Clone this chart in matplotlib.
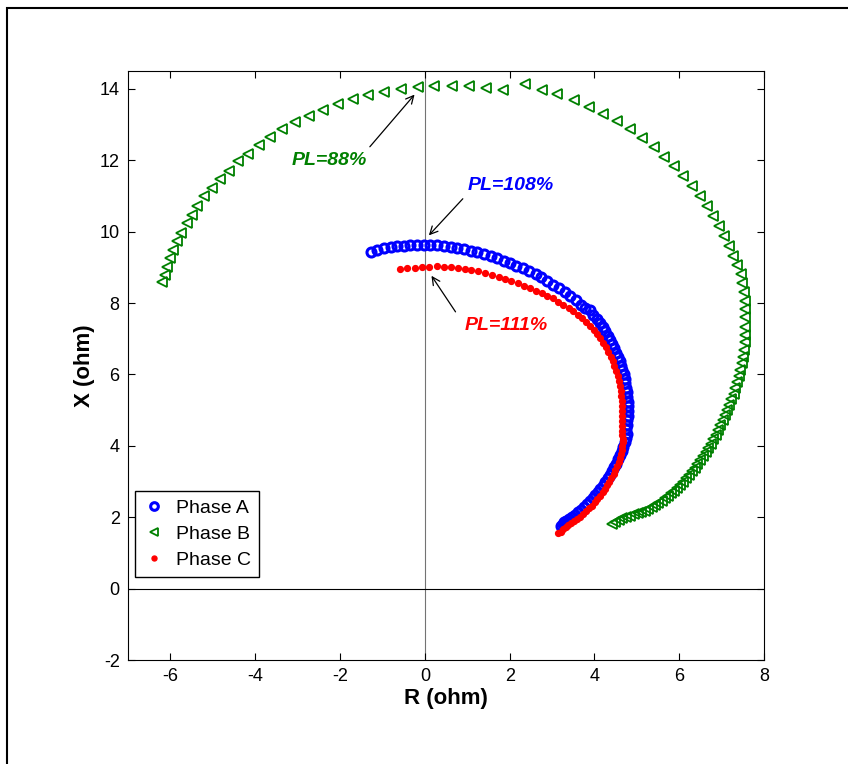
import matplotlib.pyplot as plt
from matplotlib.patches import Rectangle

plt.rcParams['axes.unicode_minus'] = False

# Phase A (blue circles)
ra = [-1.27, -1.12, -0.97, -0.81, -0.65, -0.50, -0.34, -0.18, -0.02, 0.13, 0.29, 0.45, 0.61, 0.76,
      0.92, 1.08, 1.23, 1.39, 1.55, 1.70, 1.86, 2.01, 2.16, 2.31, 2.46, 2.61, 2.75, 2.89, 3.03, 3.17,
      3.30, 3.43, 3.56, 3.68, 3.78, 3.90, 3.96, 4.05, 4.12, 4.19, 4.25, 4.31, 4.37, 4.42, 4.47, 4.52,
      4.56, 4.60, 4.63, 4.66, 4.69, 4.71, 4.73, 4.75, 4.76, 4.77, 4.78, 4.78, 4.78, 4.78, 4.77, 4.76,
      4.75, 4.77, 4.74, 4.71, 4.68, 4.64, 4.60, 4.56, 4.52, 4.47, 4.42, 4.37, 4.32, 4.26, 4.20, 4.14,
      4.08, 4.02, 3.96, 3.89, 3.82, 3.75, 3.68, 3.61, 3.54, 3.47, 3.40, 3.34, 3.29, 3.25, 3.22]
xa = [9.44, 9.50, 9.54, 9.57, 9.59, 9.61, 9.62, 9.63, 9.63, 9.63, 9.62, 9.60, 9.58, 9.55,
      9.51, 9.47, 9.42, 9.37, 9.32, 9.26, 9.19, 9.12, 9.05, 8.98, 8.90, 8.81, 8.72, 8.62, 8.52, 8.42,
      8.31, 8.20, 8.08, 7.96, 7.86, 7.80, 7.68, 7.56, 7.45, 7.33, 7.21, 7.09, 6.97, 6.85, 6.73, 6.61,
      6.49, 6.37, 6.25, 6.12, 6.00, 5.88, 5.75, 5.62, 5.50, 5.37, 5.24, 5.11, 4.98, 4.85, 4.72, 4.59,
      4.46, 4.32, 4.22, 4.10, 3.98, 3.86, 3.74, 3.62, 3.50, 3.40, 3.30, 3.19, 3.09, 2.99, 2.89, 2.80,
      2.71, 2.62, 2.53, 2.45, 2.37, 2.29, 2.21, 2.14, 2.07, 2.01, 1.96, 1.91, 1.86, 1.81, 1.76]

# Phase B (green triangles)
rb = [-6.19, -6.12, -6.07, -6.01, -5.94, -5.84, -5.75, -5.61, -5.49, -5.37, -5.20, -5.02, -4.83,
      -4.62, -4.41, -4.17, -3.92, -3.66, -3.37, -3.06, -2.74, -2.40, -2.05, -1.69, -1.34, -0.97,
      -0.57, -0.17, 0.21, 0.63, 1.05, 1.45, 1.85, 2.37, 2.77, 3.12, 3.51, 3.88, 4.21, 4.54, 4.85,
      5.13, 5.40, 5.64, 5.88, 6.09, 6.31, 6.50, 6.66, 6.80, 6.93, 7.05, 7.17, 7.27, 7.37, 7.45,
      7.48, 7.52, 7.55, 7.56, 7.56, 7.56, 7.55, 7.54, 7.52, 7.50, 7.47, 7.44, 7.40, 7.36, 7.32,
      7.28, 7.23, 7.18, 7.13, 7.08, 7.03, 6.97, 6.91, 6.86, 6.80, 6.74, 6.68, 6.62, 6.56, 6.49,
      6.43, 6.36, 6.30, 6.23, 6.16, 6.09, 6.02, 5.95, 5.88, 5.81, 5.74, 5.66, 5.59, 5.51, 5.43,
      5.35, 5.27, 5.19, 5.10, 5.02, 4.93, 4.84, 4.75, 4.66, 4.57, 4.49, 4.42]
xb = [8.58, 8.80, 9.02, 9.26, 9.49, 9.73, 9.97, 10.23, 10.48, 10.72, 10.99, 11.23, 11.48,
      11.71, 11.97, 12.18, 12.43, 12.65, 12.87, 13.06, 13.25, 13.41, 13.58, 13.72, 13.84, 13.92,
      13.99, 14.06, 14.09, 14.09, 14.08, 14.02, 13.97, 14.14, 13.97, 13.86, 13.69, 13.50, 13.30,
      13.09, 12.87, 12.62, 12.36, 12.10, 11.84, 11.56, 11.28, 11.00, 10.72, 10.44, 10.16, 9.88,
      9.60, 9.33, 9.08, 8.82, 8.55, 8.30, 8.05, 7.83, 7.60, 7.32, 7.10, 6.90, 6.70, 6.50, 6.31,
      6.13, 5.95, 5.78, 5.62, 5.46, 5.30, 5.15, 5.00, 4.86, 4.72, 4.58, 4.44, 4.31, 4.18, 4.06,
      3.94, 3.82, 3.71, 3.60, 3.49, 3.39, 3.29, 3.19, 3.09, 3.00, 2.91, 2.83, 2.75, 2.67, 2.60,
      2.53, 2.46, 2.40, 2.34, 2.28, 2.23, 2.19, 2.15, 2.12, 2.08, 2.05, 2.01, 1.97, 1.92, 1.87, 1.82]

# Phase C (red dots)
rc = [-0.59, -0.41, -0.24, -0.06, 0.10, 0.28, 0.45, 0.61, 0.78, 0.94, 1.10, 1.26, 1.42, 1.58,
      1.74, 1.89, 2.04, 2.19, 2.34, 2.48, 2.62, 2.76, 2.89, 3.02, 3.15, 3.27, 3.39, 3.50, 3.61,
      3.71, 3.81, 3.90, 3.98, 4.06, 4.13, 4.20, 4.27, 4.33, 4.38, 4.43, 4.47, 4.51, 4.55, 4.58,
      4.60, 4.62, 4.63, 4.64, 4.65, 4.65, 4.65, 4.65, 4.65, 4.65, 4.65, 4.68, 4.67, 4.66, 4.64,
      4.62, 4.60, 4.57, 4.53, 4.49, 4.45, 4.40, 4.35, 4.30, 4.25, 4.19, 4.13, 4.07, 4.01, 3.94,
      3.87, 3.80, 3.73, 3.66, 3.59, 3.52, 3.45, 3.38, 3.32, 3.26, 3.20, 3.14]
xc = [8.95, 8.97, 8.99, 9.01, 9.02, 9.03, 9.02, 9.00, 8.98, 8.95, 8.92, 8.89, 8.85, 8.80,
      8.74, 8.68, 8.62, 8.56, 8.49, 8.42, 8.35, 8.28, 8.21, 8.13, 8.04, 7.95, 7.86, 7.77, 7.67,
      7.57, 7.46, 7.35, 7.24, 7.13, 7.01, 6.89, 6.76, 6.63, 6.50, 6.37, 6.23, 6.09, 5.95, 5.81,
      5.67, 5.53, 5.39, 5.25, 5.11, 4.97, 4.83, 4.69, 4.55, 4.42, 4.30, 4.20, 4.10, 3.99, 3.88,
      3.77, 3.66, 3.55, 3.44, 3.33, 3.22, 3.11, 3.00, 2.90, 2.80, 2.70, 2.60, 2.51, 2.42, 2.33,
      2.25, 2.17, 2.09, 2.02, 1.96, 1.90, 1.84, 1.78, 1.72, 1.66, 1.60, 1.55]

fig = plt.figure(figsize=(8.48, 7.64), dpi=100)
ax = fig.add_axes([0.151, 0.136, 0.750, 0.771])

# рамка вокруг рисунка
fig.patches.append(Rectangle((7 / 848, -0.1), 1.2, 1.1 - 8 / 764, transform=fig.transFigure,
                             fill=False, edgecolor='black', linewidth=1.5))

ax.axvline(0, color='0.45', linewidth=0.8, zorder=1)
ax.axhline(0, color='black', linewidth=0.8, zorder=1)

ax.plot(ra, xa, 'o', color='blue', markerfacecolor='none', markeredgewidth=2.2,
        markersize=6.5, label='Phase A', zorder=3)
ax.plot(rb, xb, '<', color='green', markerfacecolor='none', markeredgewidth=1.3,
        markersize=6.5, label='Phase B', zorder=2)
ax.plot(rc, xc, 'o', color='red', markeredgecolor='red', markersize=4.2,
        label='Phase C', zorder=4)

arrow = dict(arrowstyle='->', color='black', lw=0.9, mutation_scale=14)
tfont = dict(fontsize=14, fontweight='bold', fontstyle='italic', family='Liberation Sans')
ax.annotate('', xy=(-0.2, 13.9), xytext=(-1.34, 12.32), arrowprops=arrow)
ax.text(-2.26, 11.99, 'PL=88%', color='green', ha='center', va='center', **tfont)
ax.annotate('', xy=(0.05, 9.84), xytext=(0.94, 10.98), arrowprops=arrow)
ax.text(2.03, 11.29, 'PL=108%', color='blue', ha='center', va='center', **tfont)
ax.annotate('', xy=(0.12, 8.83), xytext=(0.76, 7.69), arrowprops=arrow)
ax.text(1.91, 7.37, 'PL=111%', color='red', ha='center', va='center', **tfont)

ax.set_xlim(-7, 8)
ax.set_ylim(-2, 14.5)
ax.set_xticks(range(-6, 9, 2))
ax.set_yticks(range(-2, 15, 2))
ax.tick_params(direction='in', top=True, right=True, length=5, labelsize=13, pad=6)
for lab in ax.get_xticklabels() + ax.get_yticklabels():
    lab.set_family('Liberation Sans')
ax.set_xlabel('R (ohm)', fontsize=16, fontweight='bold', family='Liberation Sans', labelpad=2)
ax.set_ylabel('X (ohm)', fontsize=16, fontweight='bold', family='Liberation Sans', labelpad=3)

leg = ax.legend(loc='lower left', bbox_to_anchor=(0.011, 0.141), borderaxespad=0,
                fancybox=False, edgecolor='black', framealpha=1,
                prop={'family': 'Liberation Sans', 'size': 14},
                handletextpad=0.5, borderpad=0.4, labelspacing=0.45, handlelength=1.2,
                markerscale=0.85)
leg.get_frame().set_linewidth(1.0)

plt.savefig('out.png', dpi=100)
